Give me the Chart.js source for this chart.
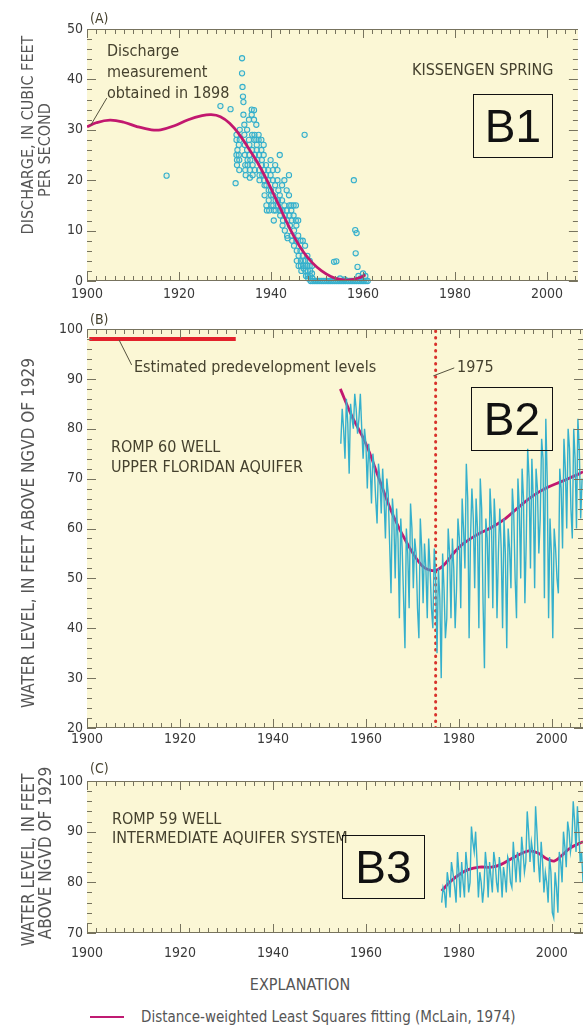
<!DOCTYPE html>
<html>
<head>
<meta charset="utf-8">
<script src="https://cdn.jsdelivr.net/npm/chart.js@4.4.1/dist/chart.umd.min.js"></script>
<style>
body { margin: 0; background: #fff; }
#page { position: relative; width: 583px; height: 1029px; overflow: hidden;
        font-family: 'Liberation Sans Narrow', 'DejaVu Sans Condensed', 'Roboto Condensed', sans-serif; color: #45412e; }
canvas { position: absolute; left: 0; }
.t { position: absolute; white-space: nowrap; font-size: 16px; line-height: 20px; }
.rot { position: absolute; white-space: nowrap; font-size: 17px; line-height: 1; color: #555;
       transform: translate(-50%, -50%) rotate(-90deg); }
.box { position: absolute; box-sizing: border-box; border: 1.5px solid #111; color: #111;
       font-family: 'Liberation Sans', Arial, sans-serif; font-size: 46px;
       display: flex; align-items: center; justify-content: center; }
</style>
</head>
<body>
<div id="page">
  <canvas id="chartA" width="583" height="305" style="top:0"></canvas>
  <canvas id="chartB" width="583" height="455" style="top:305px"></canvas>
  <canvas id="chartC" width="583" height="210" style="top:760px"></canvas>

  <div class="t" style="left:90px;top:8px;font-size:14px;">(A)</div>
  <div class="t" style="left:107px;top:40px;line-height:21px;">Discharge<br>measurement<br>obtained in 1898</div>
  <div class="t" style="left:412px;top:60px;">KISSENGEN SPRING</div>
  <div class="box" style="left:473px;top:94px;width:80px;height:64px;">B1</div>
  <div class="rot" style="left:28px;top:135px;font-size:16px;">DISCHARGE, IN CUBIC FEET</div>
  <div class="rot" style="left:45px;top:150px;font-size:16px;">PER SECOND</div>

  <div class="t" style="left:90px;top:309px;font-size:14px;">(B)</div>
  <div class="t" style="left:134px;top:357px;">Estimated predevelopment levels</div>
  <div class="t" style="left:457px;top:357px;">1975</div>
  <div class="box" style="left:471px;top:387px;width:82px;height:64px;">B2</div>
  <div class="t" style="left:111px;top:437px;">ROMP 60 WELL<br>UPPER FLORIDAN AQUIFER</div>
  <div class="rot" style="left:28px;top:533px;">WATER LEVEL, IN FEET ABOVE NGVD OF 1929</div>

  <div class="t" style="left:90px;top:758px;font-size:14px;">(C)</div>
  <div class="t" style="left:112px;top:809px;line-height:19px;">ROMP 59 WELL<br>INTERMEDIATE AQUIFER SYSTEM</div>
  <div class="box" style="left:342px;top:835px;width:83px;height:64px;">B3</div>
  <div class="rot" style="left:28px;top:860px;">WATER LEVEL, IN FEET</div>
  <div class="rot" style="left:45px;top:853px;">ABOVE NGVD OF 1929</div>

  <div class="t" style="left:0;width:600px;text-align:center;top:975px;color:#555;">EXPLANATION</div>
  <div style="position:absolute;left:90px;top:1016px;width:34px;height:2px;background:#c01a72;"></div>
  <div class="t" style="left:141px;top:1007px;font-size:15px;color:#555;">Distance-weighted Least Squares fitting (McLain, 1974)</div>
</div>

<script>
// Panel A - Kissengen Spring discharge (year, cubic feet per second)
const kissengenFlow = [
  [1917.3, 20.9], [1929.0, 34.7], [1931.2, 34.1], [1932.3, 19.4],
  [1932.5, 29], [1932.5, 28], [1932.5, 25], [1932.6, 24], [1932.6, 23], [1932.7, 26],
  [1933.0, 27], [1933.0, 25], [1933.1, 24], [1933.1, 22], [1933.2, 30], [1933.2, 28],
  [1933.7, 44.2], [1933.7, 41.2], [1933.8, 38.5], [1933.9, 36.6], [1934.0, 35.5], [1934.0, 33],
  [1934.2, 31], [1934.2, 29], [1934.3, 27], [1934.3, 25], [1934.4, 23], [1934.4, 22], [1934.5, 21],
  [1934.8, 30], [1934.8, 26], [1934.9, 24], [1934.9, 23],
  [1935.2, 32], [1935.2, 28], [1935.3, 27], [1935.3, 25], [1935.4, 22], [1935.4, 20.5], [1935.5, 24],
  [1935.8, 34], [1935.8, 33], [1935.9, 29], [1935.9, 26], [1936.0, 23], [1936.0, 21],
  [1936.3, 33.9], [1936.3, 32], [1936.4, 29], [1936.4, 28], [1936.5, 25], [1936.5, 22],
  [1936.8, 31], [1936.8, 28], [1936.9, 26], [1936.9, 27], [1937.0, 24],
  [1937.3, 29], [1937.3, 28], [1937.4, 25], [1937.4, 22], [1937.5, 20], [1937.5, 21],
  [1937.9, 28], [1937.9, 26], [1938.0, 24], [1938.0, 23], [1938.1, 21],
  [1938.4, 27], [1938.4, 25], [1938.5, 22], [1938.5, 20], [1938.6, 19], [1938.6, 17],
  [1938.9, 23], [1938.9, 21], [1939.0, 19], [1939.0, 15], [1939.1, 14],
  [1939.4, 22], [1939.4, 20], [1939.5, 18], [1939.5, 16], [1939.6, 14],
  [1939.9, 24], [1939.9, 21], [1940.0, 18], [1940.0, 17], [1940.1, 15],
  [1940.4, 22], [1940.4, 20], [1940.5, 17], [1940.5, 15], [1940.6, 12], [1940.6, 14],
  [1940.9, 23], [1940.9, 19], [1941.0, 16], [1941.0, 14],
  [1941.4, 22], [1941.4, 20], [1941.5, 16], [1941.5, 15], [1941.6, 18],
  [1941.9, 25], [1941.9, 17], [1942.0, 14], [1942.0, 13],
  [1942.4, 19], [1942.4, 16], [1942.5, 14], [1942.5, 11], [1942.6, 12],
  [1942.9, 20], [1942.9, 15], [1943.0, 13], [1943.0, 10],
  [1943.4, 18], [1943.4, 14], [1943.5, 12], [1943.5, 9], [1943.6, 8.5],
  [1943.9, 21], [1943.9, 17], [1944.0, 15], [1944.0, 13], [1944.1, 11],
  [1944.4, 15], [1944.4, 14], [1944.5, 12], [1944.5, 9], [1944.6, 8],
  [1944.9, 15], [1944.9, 13], [1945.0, 10], [1945.0, 7],
  [1945.4, 15], [1945.4, 12], [1945.5, 11], [1945.5, 8], [1945.6, 6], [1945.6, 4],
  [1945.9, 12], [1945.9, 9], [1946.0, 5], [1946.0, 3],
  [1946.4, 8], [1946.4, 6], [1946.5, 4], [1946.5, 3], [1946.6, 2],
  [1946.9, 8], [1946.9, 5], [1947.0, 4], [1947.0, 3], [1947.1, 2.5],
  [1947.3, 29], [1947.4, 7], [1947.4, 4], [1947.5, 3], [1947.5, 2], [1947.6, 1],
  [1947.9, 5], [1947.9, 3], [1948.0, 2], [1948.0, 1], [1948.1, 0.5],
  [1948.4, 4], [1948.4, 3], [1948.5, 2], [1948.5, 1], [1948.6, 0],
  [1948.9, 3], [1948.9, 1.5], [1949.0, 0.5], [1949.0, 0],
  [1949.4, 0], [1949.8, 0], [1950.2, 0], [1950.6, 0], [1951.0, 0], [1951.4, 0], [1951.8, 0],
  [1952.2, 0], [1952.6, 0], [1953.0, 0], [1953.4, 0], [1953.8, 0], [1954.2, 0], [1954.6, 0],
  [1955.0, 0], [1955.4, 0], [1955.8, 0], [1956.2, 0], [1956.6, 0], [1957.0, 0], [1957.4, 0],
  [1957.8, 0], [1958.2, 0], [1958.6, 0], [1959.0, 0], [1959.4, 0], [1959.8, 0], [1960.2, 0],
  [1960.6, 0], [1961.0, 0],
  [1953.7, 3.8], [1954.2, 3.9], [1955.0, 0.5], [1956.0, 0.3],
  [1958.0, 20], [1958.3, 10.1], [1958.6, 9.5], [1958.4, 5.5], [1958.8, 2.8],
  [1959.0, 1], [1959.5, 0.5], [1960.0, 1.5], [1960.5, 1]
];
const kissengenFit = [
  [1900, 30.6], [1902, 31.4], [1905, 31.9], [1908, 31.5], [1911, 30.6], [1914, 30.0],
  [1916, 30.0], [1919, 30.8], [1922, 32.0], [1925, 32.8], [1927, 33.0], [1929, 32.6],
  [1931, 31.3], [1933, 29.2], [1935, 26.5], [1937, 23.6], [1939, 20.2], [1941, 16.4],
  [1943, 12.5], [1945, 8.8], [1947, 5.8], [1949, 3.6], [1951, 2.0], [1953, 0.9],
  [1955, 0.3], [1957, 0.2], [1959, 0.6], [1960.5, 1.2]
];

// Panel B - ROMP 60 well, Upper Floridan aquifer (feet above NGVD 1929)
const romp60Level = [
  [1954.6, 77], [1954.9, 84], [1955.2, 80], [1955.5, 74], [1955.8, 86], [1956.1, 81],
  [1956.4, 71], [1956.7, 85], [1957.0, 82], [1957.3, 80], [1957.6, 87], [1957.9, 84],
  [1958.2, 79], [1958.5, 82], [1958.8, 87], [1959.1, 80], [1959.4, 74], [1959.7, 80],
  [1960.0, 77], [1960.3, 68], [1960.6, 77], [1960.9, 73], [1961.2, 65], [1961.5, 75],
  [1961.8, 72], [1962.1, 66], [1962.4, 61], [1962.7, 73], [1963.0, 70], [1963.3, 63],
  [1963.6, 72], [1963.9, 66], [1964.2, 58], [1964.5, 70], [1964.8, 67], [1965.1, 57],
  [1965.4, 47], [1965.7, 66], [1966.0, 62], [1966.3, 50], [1966.6, 64], [1966.9, 58],
  [1967.2, 42], [1967.5, 62], [1967.8, 56], [1968.1, 46], [1968.4, 36], [1968.7, 60],
  [1969.0, 55], [1969.3, 44], [1969.6, 65], [1969.9, 60], [1970.2, 48], [1970.5, 58],
  [1970.8, 55], [1971.1, 44], [1971.4, 38], [1971.7, 62], [1972.0, 56], [1972.3, 45],
  [1972.6, 57], [1972.9, 52], [1973.2, 42], [1973.5, 58], [1973.8, 52], [1974.1, 44],
  [1974.4, 40], [1974.7, 56], [1975.0, 50], [1975.3, 35], [1975.6, 52], [1975.9, 46],
  [1976.2, 30], [1976.5, 55], [1976.8, 48], [1977.1, 38], [1977.4, 42], [1977.7, 60],
  [1978.0, 55], [1978.3, 42], [1978.6, 58], [1978.9, 52], [1979.2, 40], [1979.5, 48],
  [1979.8, 62], [1980.1, 58], [1980.4, 44], [1980.7, 66], [1981.0, 60], [1981.3, 52],
  [1981.6, 73], [1981.9, 66], [1982.2, 38], [1982.5, 58], [1982.8, 68], [1983.1, 62],
  [1983.4, 48], [1983.7, 66], [1984.0, 60], [1984.3, 40], [1984.6, 70], [1984.9, 64],
  [1985.2, 45], [1985.5, 32], [1985.8, 62], [1986.1, 58], [1986.4, 46], [1986.7, 68],
  [1987.0, 62], [1987.3, 44], [1987.6, 66], [1987.9, 60], [1988.2, 42], [1988.5, 55],
  [1988.8, 64], [1989.1, 56], [1989.4, 40], [1989.7, 62], [1990.0, 55], [1990.3, 36],
  [1990.6, 60], [1990.9, 56], [1991.2, 48], [1991.5, 68], [1991.8, 63], [1992.1, 50],
  [1992.4, 42], [1992.7, 70], [1993.0, 64], [1993.3, 50], [1993.6, 72], [1993.9, 66],
  [1994.2, 45], [1994.5, 58], [1994.8, 76], [1995.1, 70], [1995.4, 52], [1995.7, 74],
  [1996.0, 66], [1996.3, 48], [1996.6, 72], [1996.9, 68], [1997.2, 55], [1997.5, 62],
  [1997.8, 78], [1998.1, 74], [1998.4, 46], [1998.7, 82], [1999.0, 70], [1999.3, 42],
  [1999.6, 62], [1999.9, 55], [2000.2, 38], [2000.5, 60], [2000.8, 56], [2001.1, 50],
  [2001.4, 47], [2001.7, 72], [2002.0, 68], [2002.3, 56], [2002.6, 78], [2002.9, 72],
  [2003.2, 60], [2003.5, 80], [2003.8, 76], [2004.1, 64], [2004.4, 58], [2004.7, 80],
  [2005.0, 74], [2005.3, 60], [2005.6, 82], [2005.9, 76], [2006.2, 62], [2006.5, 70]
];
const romp60Fit = [
  [1954.5, 88], [1957, 82.5], [1960, 77], [1963, 69.5], [1966, 62.3], [1969, 56.8],
  [1972, 52.6], [1974, 51.6], [1975.5, 51.8], [1977, 52.9], [1979, 55.2], [1981, 57],
  [1984, 58.8], [1987, 60.2], [1990, 62], [1993, 64.4], [1996, 66.6], [1999, 68.2],
  [2002, 69.4], [2005, 70.6], [2006.7, 71.4]
];
const predevelopment = [[1900.5, 98], [1932, 98]];
const year1975 = [[1975, 20], [1975, 100]];

// Panel C - ROMP 59 well, intermediate aquifer system
const romp59Level = [
  [1976.3, 76], [1976.6, 79], [1976.9, 78], [1977.2, 75], [1977.5, 82], [1977.8, 80],
  [1978.1, 77], [1978.4, 84], [1978.7, 82], [1979.1, 79], [1979.4, 76], [1979.7, 86],
  [1980.0, 82], [1980.3, 77], [1980.6, 84], [1980.9, 80], [1981.2, 77], [1981.5, 86],
  [1981.8, 83], [1982.1, 78], [1982.4, 80], [1982.7, 91], [1983.0, 88], [1983.3, 86],
  [1983.6, 90], [1983.9, 84], [1984.2, 77], [1984.5, 82], [1984.8, 80], [1985.1, 76],
  [1985.4, 79], [1985.7, 86], [1986.0, 83], [1986.3, 77], [1986.6, 84], [1986.9, 81],
  [1987.2, 78], [1987.5, 86], [1987.8, 84], [1988.1, 80], [1988.4, 78], [1988.7, 85],
  [1989.0, 82], [1989.3, 77], [1989.6, 83], [1989.9, 81], [1990.2, 78], [1990.5, 85],
  [1990.8, 84], [1991.1, 80], [1991.4, 79], [1991.7, 88], [1992.0, 84], [1992.3, 80],
  [1992.6, 86], [1992.9, 84], [1993.2, 80], [1993.5, 89], [1993.8, 86], [1994.1, 82],
  [1994.4, 84], [1994.7, 94], [1995.0, 90], [1995.3, 84], [1995.6, 88], [1995.9, 86],
  [1996.2, 82], [1996.5, 95], [1996.8, 90], [1997.1, 84], [1997.4, 80], [1997.7, 88],
  [1998.0, 84], [1998.3, 78], [1998.6, 82], [1998.9, 80], [1999.2, 76], [1999.5, 85],
  [1999.8, 82], [2000.1, 74], [2000.4, 73], [2000.7, 82], [2001.0, 79], [2001.3, 74],
  [2001.6, 86], [2001.9, 84], [2002.2, 80], [2002.5, 90], [2002.8, 87], [2003.1, 83],
  [2003.4, 92], [2003.7, 90], [2004.0, 86], [2004.3, 88], [2004.6, 96], [2004.9, 92],
  [2005.2, 86], [2005.5, 95], [2005.8, 90], [2006.1, 84], [2006.4, 86], [2006.7, 80]
];
const romp59Fit = [
  [1976.3, 78.3], [1978, 80], [1980, 81.5], [1982, 82.5], [1984.4, 83], [1987, 83],
  [1989, 83.5], [1992, 85], [1995, 86.2], [1997, 85.8], [1999, 84.6], [2000.5, 84.2],
  [2002, 85.2], [2004, 86.8], [2006.7, 88]
];

const pts = arr => arr.map(p => ({ x: p[0], y: p[1] }));

const CYAN = '#35b0cc';
const FIT = '#c2186f';
const tickFont = { family: "'Liberation Sans Narrow', 'DejaVu Sans Condensed', sans-serif", size: 14 };

// yellow plot area, edge line and inward tick marks
const frame = {
  id: 'frame',
  beforeDraw(chart) {
    const a = chart.chartArea, ctx = chart.ctx;
    ctx.save();
    ctx.fillStyle = '#fbf7d5';
    ctx.fillRect(a.left, a.top, a.right - a.left, a.bottom - a.top);
    ctx.restore();
  },
  afterDatasetsDraw(chart) {
    const a = chart.chartArea, ctx = chart.ctx;
    const xs = chart.scales.x, ys = chart.scales.y;
    ctx.save();
    ctx.strokeStyle = '#77735e';
    ctx.lineWidth = 1;
    ctx.beginPath();
    ctx.moveTo(a.left, a.top + 0.5); ctx.lineTo(a.right, a.top + 0.5);
    ctx.moveTo(a.left, a.bottom - 0.5); ctx.lineTo(a.right, a.bottom - 0.5);
    for (let yr = 1900; yr <= xs.max; yr += 2) {
      const px = Math.round(xs.getPixelForValue(yr)) + 0.5;
      const len = yr % 20 === 0 ? 9 : 5;
      ctx.moveTo(px, a.bottom); ctx.lineTo(px, a.bottom - len);
      ctx.moveTo(px, a.top); ctx.lineTo(px, a.top + len);
    }
    for (let v = ys.min; v <= ys.max; v += 2) {
      const py = Math.round(ys.getPixelForValue(v)) + 0.5;
      const len = v % 10 === 0 ? 9 : 5;
      ctx.moveTo(a.left, py); ctx.lineTo(a.left + len, py);
      ctx.moveTo(a.right, py); ctx.lineTo(a.right - len, py);
    }
    ctx.stroke();

    // thin leader lines for the annotations, given in data units
    const leaders = (chart.options.plugins.frame || {}).leaders || [];
    ctx.strokeStyle = '#55523e';
    ctx.beginPath();
    leaders.forEach(l => {
      ctx.moveTo(xs.getPixelForValue(l[0]), ys.getPixelForValue(l[1]));
      ctx.lineTo(xs.getPixelForValue(l[2]), ys.getPixelForValue(l[3]));
    });
    ctx.stroke();
    ctx.restore();
  }
};

function makePanel(id, canvasTop, canvasHeight, areaTop, areaBottom, yMin, yMax, labelPad, datasets, leaders) {
  return new Chart(document.getElementById(id), {
    type: 'scatter',
    data: { datasets: datasets },
    options: {
      responsive: false,
      animation: false,
      layout: { padding: { top: areaTop - canvasTop, left: 0, right: 0, bottom: 0 } },
      plugins: {
        legend: { display: false },
        tooltip: { enabled: false },
        frame: { leaders: leaders }
      },
      scales: {
        x: {
          type: 'linear', min: 1900, max: 2006.7,
          afterFit: s => { s.height = canvasTop + canvasHeight - areaBottom; },
          grid: { display: false, drawTicks: false },
          border: { display: false },
          ticks: { stepSize: 20, includeBounds: false, padding: labelPad, maxRotation: 0,
                   autoSkip: false, font: tickFont, color: '#3a3a3a', callback: v => String(v) }
        },
        y: {
          min: yMin, max: yMax,
          afterFit: s => { s.width = 87; },
          grid: { display: false, drawTicks: false },
          border: { display: false },
          ticks: { stepSize: 10, padding: 4, font: tickFont, color: '#3a3a3a' }
        }
      }
    },
    plugins: [frame]
  });
}

makePanel('chartA', 0, 305, 29, 281, 0, 50, 5, [
  { data: pts(kissengenFit), showLine: true, borderColor: FIT, borderWidth: 2.8,
    pointRadius: 0, tension: 0.4 },
  { data: pts(kissengenFlow), showLine: false, pointRadius: 2.6, pointStyle: 'circle',
    borderColor: CYAN, backgroundColor: 'rgba(120,200,220,0.15)', borderWidth: 1.1, clip: false }
], [[1900.8, 30.9, 1904.3, 36.3]]);

makePanel('chartB', 305, 455, 329, 728, 20, 100, 3, [
  { data: pts(predevelopment), showLine: true, borderColor: '#e3222b', borderWidth: 4, pointRadius: 0 },
  { data: pts(romp60Level), showLine: true, borderColor: CYAN, borderWidth: 1.4, pointRadius: 0, tension: 0 },
  { data: pts(romp60Fit), showLine: true, borderColor: FIT, borderWidth: 2.8, pointRadius: 0, tension: 0.4 },
  { data: pts(year1975), showLine: true, borderColor: '#d8322c', borderWidth: 3, pointRadius: 0,
    borderDash: [0.5, 6], borderCapStyle: 'round' }
], [[1906.9, 97.8, 1909.6, 92.8], [1974.5, 90.6, 1979.0, 92.2]]);

makePanel('chartC', 760, 210, 781, 933, 70, 100, 12, [
  { data: pts(romp59Level), showLine: true, borderColor: CYAN, borderWidth: 1.4, pointRadius: 0, tension: 0 },
  { data: pts(romp59Fit), showLine: true, borderColor: FIT, borderWidth: 2.8, pointRadius: 0, tension: 0.4 }
], []);
</script>
</body>
</html>
